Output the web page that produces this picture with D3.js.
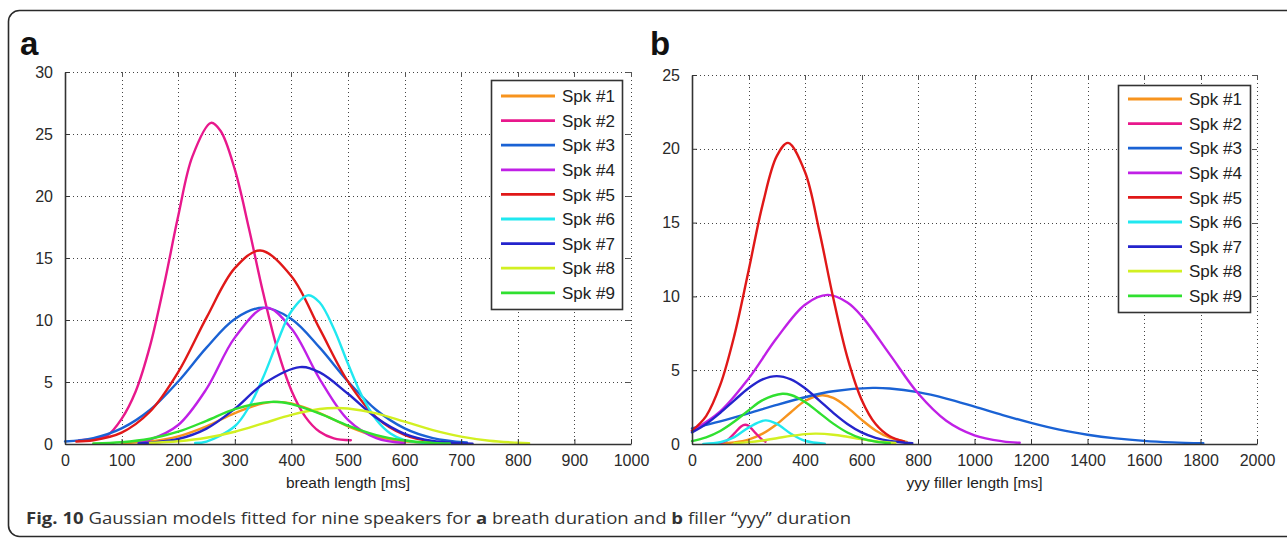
<!DOCTYPE html>
<html><head><meta charset="utf-8">
<script src="https://cdn.jsdelivr.net/npm/d3@7"></script>
<style>
html,body{margin:0;padding:0;background:#fff;}
svg{display:block;}
</style></head>
<body>
<svg id="chart" width="1287" height="538"></svg>
<script>
// ---------- data ----------
const speakers = ["Spk #1","Spk #2","Spk #3","Spk #4","Spk #5","Spk #6","Spk #7","Spk #8","Spk #9"];
const speakerColors = ["#f7941e","#e8188c","#1a62d4","#c020e6","#e01818","#20e8f0","#2424cc","#d2f022","#30e030"];

const breathTicksX = [0,100,200,300,400,500,600,700,800,900,1000];
const breathTicksY = [0,5,10,15,20,25,30];
const fillerTicksX = [0,200,400,600,800,1000,1200,1400,1600,1800,2000];
const fillerTicksY = [0,5,10,15,20,25];

// panel a: breath length [ms]
const breath1 = [[100,0.05],[150,0.21],[200,0.62],[250,1.43],[300,2.49],[350,3.28],[375,3.4],[400,3.28],[450,2.49],[500,1.43],[550,0.62],[600,0.21],[650,0.05]];
const breath2 = [[25,0.3],[50,0.4],[75,0.7],[100,2.03],[125,4.26],[150,7.87],[175,12.82],[200,18.38],[225,23.18],[258,25.9],[275,25.24],[300,22.14],[325,17.38],[350,12.21],[375,7.67],[400,4.32],[425,2.17],[450,0.98],[475,0.45],[505,0.3]];
const breath3 = [[0,0.2],[50,0.48],[100,1.26],[150,2.74],[200,5.04],[250,7.77],[300,10.09],[350,11],[400,10.09],[450,7.77],[500,5.04],[550,2.74],[600,1.26],[650,0.48],[710,0.12]];
const breath4 = [[130,0.17],[150,0.35],[200,1.53],[250,4.44],[300,8.58],[355,11],[400,9.31],[450,5.24],[500,1.95],[550,0.48],[600,0.08]];
const breath5 = [[20,0.2],[50,0.3],[100,0.92],[150,2.6],[200,5.79],[250,10.19],[300,14.18],[345,15.6],[400,13.53],[450,9.28],[500,5.03],[550,2.15],[600,0.73],[650,0.19],[700,0.04]];
const breath6 = [[230,0.08],[250,0.2],[300,1.43],[325,2.99],[350,5.36],[375,8.2],[400,10.71],[430,12],[450,11.41],[475,9.3],[500,6.47],[525,3.85],[550,1.96],[575,0.85],[600,0.31],[650,0.03]];
const breath7 = [[130,0.05],[150,0.1],[200,0.4],[250,1.24],[300,2.84],[350,4.83],[415,6.2],[450,5.77],[500,4.05],[550,2.11],[600,0.82],[650,0.24],[720,0.03]];
const breath8 = [[150,0.08],[200,0.22],[250,0.5],[300,0.99],[350,1.66],[400,2.35],[450,2.82],[480,2.9],[500,2.86],[550,2.47],[600,1.8],[650,1.12],[700,0.59],[750,0.26],[800,0.1],[820,0.06]];
const breath9 = [[50,0.04],[100,0.14],[150,0.42],[200,0.99],[250,1.87],[300,2.81],[365,3.4],[400,3.22],[450,2.45],[500,1.49],[550,0.72],[600,0.28],[650,0.09],[680,0.04]];

// panel b: yyy filler length [ms]
const filler1 = [[100,0.03],[150,0.11],[200,0.3],[250,0.7],[300,1.34],[350,2.15],[400,2.91],[460,3.3],[500,3.12],[550,2.48],[600,1.65],[650,0.92],[700,0.43],[760,0.14]];
const filler2 = [[80,0.03],[100,0.06],[125,0.26],[150,0.72],[175,1.21],[188,1.3],[200,1.23],[225,0.74],[250,0.27],[260,0.16]];
const filler3 = [[0,1.06],[100,1.53],[200,2.07],[300,2.65],[400,3.17],[500,3.57],[640,3.8],[700,3.76],[800,3.51],[900,3.08],[1000,2.53],[1100,1.96],[1200,1.43],[1300,0.97],[1400,0.63],[1500,0.38],[1600,0.21],[1700,0.11],[1810,0.05]];
const filler4 = [[0,0.89],[100,2.21],[200,4.43],[300,7.18],[400,9.44],[480,10.1],[550,9.59],[600,8.68],[700,6.07],[800,3.44],[900,1.58],[1000,0.59],[1100,0.18],[1160,0.08]];
const filler5 = [[0,0.9],[50,1.89],[100,4.0],[150,7.36],[200,11.72],[250,16.22],[300,19.5],[340,20.4],[400,18.43],[450,14.49],[500,9.89],[550,5.87],[600,3.02],[650,1.35],[700,0.52],[750,0.18]];
const filler6 = [[40,0.01],[100,0.12],[150,0.47],[200,1.11],[260,1.6],[300,1.36],[350,0.7],[400,0.22],[470,0.02]];
const filler7 = [[0,0.79],[50,1.36],[100,2.11],[150,2.96],[200,3.78],[250,4.38],[300,4.6],[350,4.38],[400,3.78],[450,2.96],[500,2.11],[550,1.36],[600,0.79],[650,0.42],[700,0.2],[780,0.05]];
const filler8 = [[150,0.06],[200,0.13],[250,0.24],[300,0.39],[350,0.55],[400,0.67],[440,0.7],[500,0.63],[550,0.49],[600,0.33],[650,0.19],[720,0.07]];
const filler9 = [[0,0.2],[50,0.45],[100,0.88],[150,1.52],[200,2.28],[250,2.97],[320,3.4],[350,3.32],[400,2.85],[450,2.12],[500,1.38],[550,0.78],[600,0.38],[650,0.16],[700,0.06]];

const breathSeries = [breath1,breath2,breath3,breath4,breath5,breath6,breath7,breath8,breath9];
const fillerSeries = [filler1,filler2,filler3,filler4,filler5,filler6,filler7,filler8,filler9];

// ---------- drawing ----------
const svg = d3.select("#chart");
const tickFont = "'Liberation Sans', Arial, sans-serif";

svg.append("rect").attr("x",8.5).attr("y",10.5).attr("width",1300).attr("height",526)
  .attr("rx",11).attr("ry",11).attr("fill","none").attr("stroke","#2a2a2a").attr("stroke-width",1.6);

function drawPanel(o){
  const g = svg.append("g");
  const x = d3.scaleLinear().domain(o.xDomain).range([o.left, o.right]);
  const y = d3.scaleLinear().domain(o.yDomain).range([o.bottom, o.top]);

  const grid = g.append("g").attr("stroke","#444").attr("stroke-width",1).attr("stroke-dasharray","1,3");
  o.xTicks.filter(v=>v!==o.xDomain[0]).forEach(v=>{
    grid.append("line").attr("x1",Math.round(x(v))+0.5).attr("x2",Math.round(x(v))+0.5).attr("y1",o.top).attr("y2",o.bottom);
  });
  o.yTicks.filter(v=>v!==o.yDomain[0]).forEach(v=>{
    grid.append("line").attr("x1",o.left).attr("x2",o.right).attr("y1",Math.round(y(v))+0.5).attr("y2",Math.round(y(v))+0.5);
  });

  const tk = g.append("g").attr("stroke","#555").attr("stroke-width",1);
  o.xTicks.forEach(v=>{
    tk.append("line").attr("x1",Math.round(x(v))+0.5).attr("x2",Math.round(x(v))+0.5).attr("y1",o.top).attr("y2",o.top+5);
  });
  o.yTicks.forEach(v=>{
    tk.append("line").attr("x1",o.right-5).attr("x2",o.right).attr("y1",Math.round(y(v))+0.5).attr("y2",Math.round(y(v))+0.5);
  });

  const line = d3.line().x(d=>x(d[0])).y(d=>y(d[1])).curve(d3.curveCatmullRom.alpha(0.5));
  o.series.forEach((s,i)=>{
    g.append("path").attr("d",line(s)).attr("fill","none")
      .attr("stroke",speakerColors[i]).attr("stroke-width",2.4)
      .attr("stroke-linejoin","round").attr("stroke-linecap","round");
  });

  const xAxis = d3.axisBottom(x).tickValues(o.xTicks).tickFormat(d3.format("d")).tickSizeInner(-5).tickSizeOuter(0).tickPadding(11);
  const yAxis = d3.axisLeft(y).tickValues(o.yTicks).tickFormat(d3.format("d")).tickSizeInner(-5).tickSizeOuter(0).tickPadding(12);
  const gx = g.append("g").attr("transform",`translate(0,${o.bottom})`).call(xAxis);
  const gy = g.append("g").attr("transform",`translate(${o.left},0)`).call(yAxis);
  [gx,gy].forEach(a=>{
    a.select(".domain").attr("stroke","#333").attr("stroke-width",1.6);
    a.selectAll(".tick line").attr("stroke","#333").attr("stroke-width",1);
    a.selectAll(".tick text").attr("fill","#2a2a2a").style("font-family",tickFont).style("font-size","16px");
  });
  gx.selectAll(".tick text").attr("dy","0.71em");

  g.append("text").attr("x",(o.left+o.right)/2).attr("y",488).attr("text-anchor","middle")
    .style("font-family",tickFont).style("font-size","15.5px").attr("fill","#222").text(o.xTitle);

  const lg = g.append("g");
  lg.append("rect").attr("x",o.legX+0.5).attr("y",o.legTop+0.5).attr("width",o.legW).attr("height",o.legH)
    .attr("fill","#fff").attr("stroke","#333").attr("stroke-width",1.6);
  speakers.forEach((name,i)=>{
    const yy = o.legTop + o.legFirst + i*o.legStep;
    lg.append("line").attr("x1",o.legX+10).attr("x2",o.legX+64).attr("y1",yy).attr("y2",yy)
      .attr("stroke",speakerColors[i]).attr("stroke-width",2.8);
    lg.append("text").attr("x",o.legX+71).attr("y",yy).attr("dy","0.36em")
      .style("font-family",tickFont).style("font-size","17px").attr("fill","#222").text(name);
  });

  svg.append("text").attr("x",o.labelX).attr("y",55).style("font-family","'Liberation Sans', Arial, sans-serif")
    .style("font-size","33px").style("font-weight","bold").attr("fill","#111").text(o.label);
}

drawPanel({
  series: breathSeries, xDomain:[0,1000], yDomain:[0,30], xTicks: breathTicksX, yTicks: breathTicksY,
  left:65, right:631, top:72, bottom:444, xTitle:"breath length [ms]",
  legX:491, legTop:80, legW:131, legH:229, legFirst:16, legStep:24.6, label:"a", labelX:20
});
drawPanel({
  series: fillerSeries, xDomain:[0,2000], yDomain:[0,25], xTicks: fillerTicksX, yTicks: fillerTicksY,
  left:692, right:1257, top:75, bottom:444, xTitle:"yyy filler length [ms]",
  legX:1118, legTop:85, legW:132, legH:227, legFirst:14, legStep:24.6, label:"b", labelX:650
});

const cap = svg.append("text").attr("x",26).attr("y",524)
  .style("font-family","'Open Sans', 'Noto Sans', sans-serif").style("font-size","16.5px").attr("fill","#333")
  .attr("textLength",825).attr("lengthAdjust","spacingAndGlyphs");
cap.append("tspan").style("font-weight","bold").text("Fig. 10");
cap.append("tspan").text(" Gaussian models fitted for nine speakers for ");
cap.append("tspan").style("font-weight","bold").text("a");
cap.append("tspan").text(" breath duration and ");
cap.append("tspan").style("font-weight","bold").text("b");
cap.append("tspan").text(" filler \u201cyyy\u201d duration");
</script>
</body></html>
